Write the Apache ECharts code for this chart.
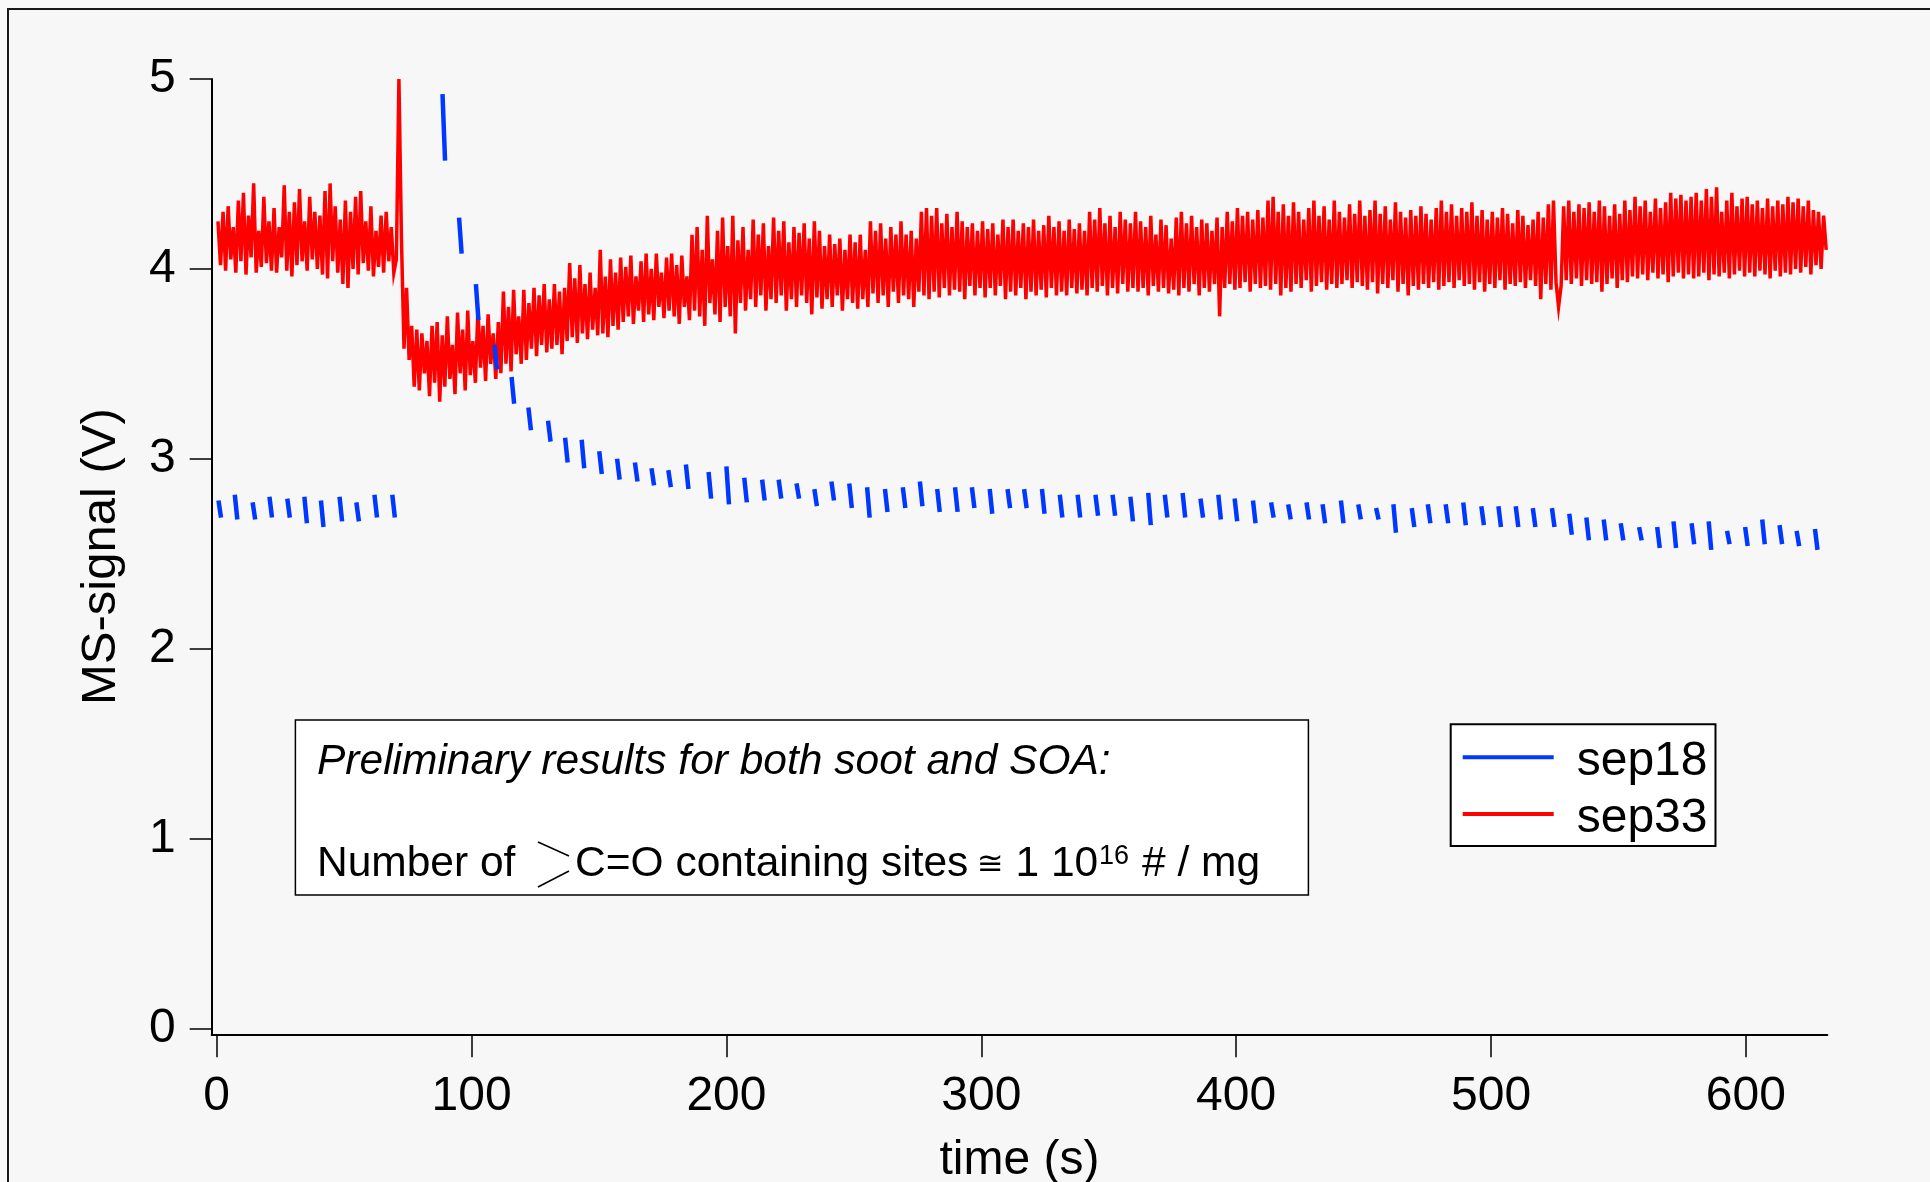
<!DOCTYPE html>
<html>
<head>
<meta charset="utf-8">
<script src="https://cdn.jsdelivr.net/npm/echarts@6/dist/echarts.min.js"></script>
<style>
html,body{margin:0;padding:0;background:#f9f9f9;}
#chart{width:1930px;height:1182px;}
</style>
</head>
<body>
<div id="chart"></div>
<script>
// ---- axis ticks ----
const xTicks = [0, 100, 200, 300, 400, 500, 600];
const yTicks = [0, 1, 2, 3, 4, 5];

// ---- sep33 (red): one sample per second, first sample at t = 0.5 s ----
const sep33Start = 0.5;
const sep33Step = 1;
const sep33_000 = [
4.25,4.02,4.30,3.99,4.33,4.05,4.22,3.98,4.36,4.04,
4.40,3.97,4.28,4.06,4.45,3.98,4.20,4.01,4.38,4.03,
4.25,3.99,4.32,3.98,4.22,4.06,4.44,3.99,4.30,3.96,
4.35,4.02,4.42,4.04,4.25,3.99,4.38,4.05,4.30,4.00,
4.28,3.97,4.41,3.95,4.45,4.04,4.33,3.98,4.26,3.92,
4.36,3.90,4.30,4.00,4.38,3.97,4.41,4.03,4.25,3.99,
4.33,3.96,4.20,4.01,4.28,3.98,4.30,4.04,4.22,3.98,
4.05,5.00,4.15,3.58,3.90,3.52,3.70,3.38,3.68,3.36,
3.66,3.45,3.62,3.33,3.70,3.40,3.72,3.30,3.65,3.38,
3.75,3.42,3.60,3.34,3.77,3.45,3.68,3.36,3.78,3.44];
const sep33_100 = [
3.62,3.40,3.79,3.48,3.70,3.41,3.76,3.50,3.66,3.42,
3.72,3.45,3.88,3.50,3.80,3.46,3.89,3.55,3.75,3.50,
3.89,3.52,3.82,3.58,3.90,3.54,3.86,3.60,3.92,3.56,
3.84,3.58,3.92,3.60,3.88,3.55,3.90,3.62,4.03,3.64,
3.95,3.61,4.02,3.66,3.92,3.63,3.98,3.68,3.90,3.65,
4.10,3.66,3.96,3.64,4.05,3.70,3.98,3.68,4.06,3.72,
4.01,3.75,4.07,3.71,3.96,3.78,4.04,3.72,4.08,3.76,
4.00,3.73,4.08,3.80,3.98,3.74,4.06,3.78,4.08,3.75,
4.02,3.71,4.07,3.80,3.96,3.73,4.18,3.78,4.22,3.75,
4.10,3.70,4.28,3.82,4.05,3.76,4.20,3.72,4.27,3.80];
const sep33_200 = [
4.12,3.75,4.28,3.66,4.15,3.82,4.22,3.78,4.10,3.84,
4.26,3.80,4.18,3.86,4.24,3.78,4.12,3.84,4.27,3.82,
4.20,3.86,4.25,3.78,4.14,3.84,4.22,3.80,4.19,3.86,
4.24,3.82,4.16,3.76,4.25,3.85,4.20,3.79,4.12,3.84,
4.18,3.80,4.13,3.86,4.16,3.78,4.10,3.84,4.18,3.82,
4.14,3.79,4.18,3.84,4.10,3.80,4.25,3.87,4.20,3.82,
4.24,3.86,4.16,3.80,4.22,3.88,4.18,3.82,4.25,3.86,
4.18,3.84,4.20,3.80,4.16,3.88,4.30,3.86,4.32,3.84,
4.28,3.88,4.32,3.85,4.24,3.90,4.29,3.86,4.22,3.89,
4.30,3.88,4.25,3.84,4.22,3.91,4.24,3.86,4.20,3.90];
const sep33_300 = [
4.25,3.85,4.21,3.90,4.24,3.86,4.18,3.91,4.26,3.84,
4.22,3.88,4.26,3.86,4.20,3.90,4.24,3.84,4.22,3.88,
4.26,3.86,4.20,3.89,4.23,3.85,4.28,3.90,4.22,3.86,
4.25,3.88,4.20,3.86,4.26,3.90,4.21,3.87,4.24,3.89,
4.20,3.86,4.30,3.90,4.26,3.88,4.32,3.91,4.24,3.86,
4.28,3.90,4.22,3.87,4.30,3.92,4.26,3.88,4.24,3.90,
4.30,3.88,4.25,3.90,4.22,3.86,4.28,3.91,4.18,3.88,
4.26,3.90,4.23,3.87,4.16,3.89,4.27,3.86,4.30,3.90,
4.24,3.88,4.28,3.92,4.22,3.86,4.26,3.90,4.24,3.88,
4.20,3.92,4.27,3.75,4.22,3.90,4.30,3.92,4.25,3.89];
const sep33_400 = [
4.32,3.90,4.28,3.93,4.30,3.88,4.26,3.92,4.31,3.90,
4.27,3.91,4.36,3.89,4.38,3.92,4.30,3.86,4.34,3.90,
4.28,3.88,4.35,3.92,4.30,3.90,4.26,3.94,4.32,3.88,
4.36,3.91,4.28,3.93,4.33,3.89,4.26,3.92,4.36,3.90,
4.30,3.92,4.27,3.94,4.34,3.90,4.29,3.93,4.36,3.91,
4.28,3.89,4.31,3.93,4.36,3.87,4.29,3.92,4.33,3.90,
4.26,3.94,4.35,3.88,4.30,3.92,4.27,3.86,4.31,3.91,
4.28,3.89,4.33,3.92,4.29,3.90,4.26,3.93,4.32,3.89,
4.36,3.91,4.30,3.93,4.34,3.90,4.28,3.94,4.32,3.91,
4.30,3.92,4.35,3.89,4.28,3.93,4.31,3.88,4.26,3.92];
const sep33_500 = [
4.30,3.90,4.27,3.94,4.32,3.89,4.29,3.92,4.24,3.91,
4.31,3.93,4.28,3.90,4.23,3.94,4.26,3.91,4.30,3.84,
4.27,3.92,4.34,3.89,4.36,3.93,3.80,3.91,4.33,3.94,
4.36,3.92,4.30,3.95,4.34,3.91,4.32,3.94,4.35,3.92,
4.30,3.93,4.36,3.88,4.33,3.92,4.28,3.95,4.34,3.90,
4.29,3.94,4.36,3.93,4.31,3.96,4.38,3.95,4.33,3.97,
4.36,3.94,4.30,3.98,4.37,3.95,4.32,3.97,4.35,3.93,
4.40,3.96,4.37,3.98,4.39,3.95,4.36,3.97,4.38,3.95,
4.40,3.96,4.36,3.98,4.42,3.94,4.38,3.97,4.43,3.96,
4.30,3.98,4.36,3.95,4.40,3.97,4.33,3.99,4.37,3.96];
const sep33_600 = [
4.38,3.98,4.34,3.96,4.36,3.99,4.32,3.97,4.37,3.95,
4.33,3.99,4.36,3.96,4.34,3.98,4.38,3.97,4.35,4.00,
4.37,3.98,4.33,4.01,4.36,3.97,4.31,4.02,4.30,4.00,
4.28,4.10];

// ---- sep18 (blue): short recorded bursts; start time (s), first and last value of each burst ----
const sep18Span = 1.0; // duration of one burst (s)
const sep18T = [0.7,7.1,14.1,20.7,27.7,34.4,40.9,48.2,54.8,61.9,68.9,
  88.6,95.1,101.7,109,115.7,122.3,130,136.7,143.2,150.1,157.1,164.1,170.6,177.2,184.1,
  193,200,207,214,220.5,227.5,234.5,241.2,248.2,255.2,262.2,269.2,275.9,282.7,289.7,296.3,
  303.3,310.3,316.8,323.8,330.8,337.8,344.8,351.5,358.5,365.5,372,379,386,393,399.4,
  406.6,413.7,420.4,427.6,433.9,441.1,447.9,454.9,461.7,468.9,475.2,482.2,489.1,496.2,
  502.9,509.7,516.4,523.9,530.7,537.4,544.2,550.9,558.1,565.2,571.6,578.7,585.4,592.6,
  599.7,606.4,613.2,619.9,627.1];
const sep18First = [2.78,2.81,2.77,2.80,2.79,2.80,2.78,2.80,2.77,2.81,2.81,
  4.92,4.27,3.92,3.60,3.43,3.27,3.20,3.11,3.10,3.04,3.00,2.98,2.95,2.94,2.97,
  2.93,2.96,2.90,2.89,2.89,2.87,2.84,2.88,2.87,2.85,2.84,2.85,2.88,2.84,2.85,2.85,
  2.84,2.84,2.84,2.84,2.81,2.81,2.81,2.81,2.80,2.82,2.81,2.82,2.79,2.81,2.79,
  2.78,2.77,2.76,2.77,2.76,2.78,2.76,2.74,2.76,2.74,2.76,2.76,2.77,2.75,
  2.75,2.75,2.74,2.74,2.71,2.69,2.68,2.66,2.64,2.64,2.67,2.66,2.67,2.62,
  2.64,2.68,2.65,2.62,2.63];
const sep18Last = [2.69,2.68,2.68,2.69,2.69,2.66,2.64,2.67,2.67,2.69,2.69,
  4.57,4.08,3.73,3.47,3.29,3.15,3.09,2.98,2.95,2.92,2.89,2.88,2.86,2.85,2.84,
  2.79,2.76,2.77,2.78,2.79,2.79,2.75,2.78,2.74,2.69,2.72,2.74,2.75,2.72,2.72,2.74,
  2.71,2.74,2.74,2.71,2.69,2.69,2.70,2.70,2.67,2.65,2.69,2.69,2.69,2.68,2.67,
  2.66,2.69,2.68,2.68,2.66,2.66,2.68,2.68,2.61,2.64,2.66,2.66,2.65,2.65,
  2.64,2.64,2.64,2.64,2.60,2.57,2.57,2.57,2.57,2.53,2.53,2.55,2.52,2.55,
  2.54,2.55,2.55,2.54,2.52];

// ---- build series data ----
const sep33Values = [].concat(sep33_000, sep33_100, sep33_200, sep33_300, sep33_400, sep33_500, sep33_600);
const sep33Data = sep33Values.map((v, i) => [sep33Start + i * sep33Step, v]);
const sep18Data = [];
sep18T.forEach((t, i) => {
  sep18Data.push([t, sep18First[i]]);
  sep18Data.push([t + sep18Span, sep18Last[i]]);
  sep18Data.push([t + sep18Span + 0.5, '-']);
});

const FONT = '"Liberation Sans", Arial, Helvetica, sans-serif';
const RED = '#ff0000';
const BLUE = '#0038ff';

const chart = echarts.init(document.getElementById('chart'), null, {renderer: 'canvas'});
chart.setOption({
  animation: false,
  backgroundColor: '#f9f9f9',
  grid: {left: 211.7, right: 102.7, top: 79, bottom: 147.7, containLabel: false, outerBoundsMode: 'none'},
  xAxis: {
    type: 'value', min: -1.96, max: 631.94,
    name: 'time (s)', nameLocation: 'middle', nameGap: 126,
    nameTextStyle: {fontSize: 48, fontFamily: FONT, color: '#000', verticalAlign: 'middle'},
    axisLine: {onZero: false, lineStyle: {color: '#000', width: 2}},
    axisTick: {customValues: xTicks, length: 23, lineStyle: {color: '#000', width: 1.5}},
    axisLabel: {customValues: xTicks, fontSize: 48, fontFamily: FONT, color: '#000', margin: 62, verticalAlign: 'middle'},
    splitLine: {show: false}
  },
  yAxis: {
    type: 'value', min: -0.0316, max: 5,
    name: 'MS-signal (V)', nameLocation: 'middle', nameRotate: 90, nameGap: 110,
    nameTextStyle: {fontSize: 49, fontFamily: FONT, color: '#000', verticalAlign: 'middle'},
    axisLine: {onZero: false, lineStyle: {color: '#000', width: 2}},
    axisTick: {customValues: yTicks, length: 22, lineStyle: {color: '#000', width: 1.5}},
    axisLabel: {customValues: yTicks, fontSize: 48, fontFamily: FONT, color: '#000', margin: 36, padding: [7, 0, 0, 0]},
    splitLine: {show: false}
  },
  legend: {
    orient: 'vertical', left: 1450.7, top: 724.3,
    data: ['sep18', 'sep33'],
    icon: 'path://M0,0L91,0L91,4L0,4Z M0,13L0.01,13',
    itemWidth: 91, itemHeight: 13, itemGap: 8.7,
    padding: [13.5, 8, 3.5, 12],
    backgroundColor: '#ffffff', borderColor: '#000', borderWidth: 2, borderRadius: 0,
    textStyle: {fontSize: 48, fontFamily: FONT, color: '#000', lineHeight: 48, padding: [0, 0, 0, 18]}
  },
  graphic: [
    {type: 'rect', z: -10, silent: true,
     shape: {x: 8, y: 9, width: 1960, height: 1220},
     style: {fill: '#f7f7f7', stroke: '#1a1a1a', lineWidth: 2}},
    {type: 'rect', z: 10, silent: true,
     shape: {x: 295.4, y: 720, width: 1013, height: 175},
     style: {fill: '#ffffff', stroke: '#000', lineWidth: 1.5}},
    {type: 'text', z: 11, x: 317, y: 762,
     style: {text: 'Preliminary results for both soot and SOA:', fontSize: 42.5, fontStyle: 'italic', fontFamily: FONT, fill: '#000', align: 'left', verticalAlign: 'middle'}},
    {type: 'text', z: 11, x: 317, y: 864.7,
     style: {text: 'Number of', fontSize: 42.5, fontFamily: FONT, fill: '#000', align: 'left', verticalAlign: 'middle'}},
    {type: 'polyline', z: 11, shape: {points: [[538, 842], [569, 856]]}, style: {stroke: '#000', lineWidth: 1.5}},
    {type: 'polyline', z: 11, shape: {points: [[569, 871], [538, 887]]}, style: {stroke: '#000', lineWidth: 1.5}},
    {type: 'text', z: 11, x: 575, y: 864.7,
     style: {text: 'C=O containing sites', fontSize: 42.5, fontFamily: FONT, fill: '#000', align: 'left', verticalAlign: 'middle'}},
    {type: 'text', z: 11, x: 977, y: 866,
     style: {text: '\u2245', fontSize: 32, fontFamily: '"DejaVu Sans", sans-serif', fill: '#000', align: 'left', verticalAlign: 'middle'}},
    {type: 'text', z: 11, x: 1015.5, y: 864.7,
     style: {text: '1 10', fontSize: 42.5, fontFamily: FONT, fill: '#000', align: 'left', verticalAlign: 'middle'}},
    {type: 'text', z: 11, x: 1099, y: 857,
     style: {text: '16', fontSize: 27, fontFamily: FONT, fill: '#000', align: 'left', verticalAlign: 'middle'}},
    {type: 'text', z: 11, x: 1142, y: 864.7,
     style: {text: '# / mg', fontSize: 42.5, fontFamily: FONT, fill: '#000', align: 'left', verticalAlign: 'middle'}}
  ],
  series: [
    {name: 'sep33', type: 'line', data: sep33Data, showSymbol: false, symbol: 'none',
     lineStyle: {color: RED, width: 3.5, join: 'miter'}, itemStyle: {color: RED}, z: 2, sampling: null},
    {name: 'sep18', type: 'line', data: sep18Data, showSymbol: false, symbol: 'none', connectNulls: false,
     lineStyle: {color: BLUE, width: 4.5}, itemStyle: {color: BLUE}, z: 3}
  ]
});
</script>
</body>
</html>
